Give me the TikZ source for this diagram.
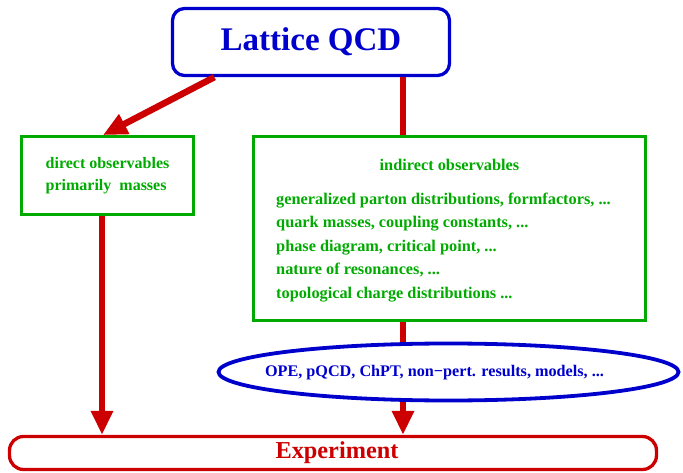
\documentclass[tikz,border=0pt]{standalone}
\usepackage{fontspec}
\setmainfont{Liberation Serif}
\usepackage{tikz}
\usetikzlibrary{positioning, shapes.geometric, arrows.meta}
\definecolor{qcdblue}{RGB}{0,0,204}
\definecolor{obsgreen}{RGB}{0,170,0}
\definecolor{expred}{RGB}{204,0,0}
\tikzset{
    bluebox/.style={
        rectangle,
        rounded corners=12pt,
        draw=qcdblue, % 边框为蓝色
        line width=3.3pt,
        text=qcdblue,
        minimum width=277pt,
        minimum height=67pt,
        font=\bfseries\fontsize{33}{36}\selectfont
    },
    greenbox/.style={
        rectangle,
        draw=obsgreen, % 边框为绿色
        line width=2.8pt,
        text=obsgreen,
        inner sep=0,
        font=\bfseries\fontsize{16}{22}\selectfont
    },
    greentext/.style={
        text=obsgreen,
        inner sep=0,
        font=\bfseries\fontsize{16.3}{23.5}\selectfont
    },
    bluering/.style={
        ellipse,
        draw=qcdblue,
        line width=3.8pt,
        minimum width=460pt,
        minimum height=57pt,
        inner sep=0
    },
    bluetext/.style={
        text=qcdblue,
        inner sep=0,
        font=\bfseries\fontsize{16.2}{18}\selectfont
    },
    redbox/.style={
        rectangle,
        rounded corners=14pt,
        draw=expred,
        line width=3.3pt,
        text=expred,
        minimum width=647pt,
        minimum height=33pt,
        font=\bfseries\fontsize{24.3}{26}\selectfont
    },
    redlink/.style={
        draw=expred,
        line width=6.5pt % 红色粗线
    },
    redarrow/.style={
        redlink,
        -{Triangle[length=24pt,width=21pt]}
    }
}

\begin{document}
\begin{tikzpicture}[x=1pt, y=-1pt]
    \useasboundingbox (0,0) rectangle (683,473);
    % 方框
    \node[bluebox] (lattice) at (311,42) {Lattice QCD};
    \node[greenbox, align=left, minimum width=172pt, minimum height=78pt]
        (direct) at (107.5,175.5) {direct observables\\primarily~~masses};
    \node[greenbox, minimum width=392pt, minimum height=184pt]
        (indirect) at (449.5,228.5) {};
    \node[greentext] (indtitle) at (449.5,165) {indirect observables};
    \node[greentext, align=left, anchor=west] (indlist) at (276,247.5) {%
        generalized parton distributions, formfactors, ...\\
        quark masses, coupling constants, ...\\
        phase diagram, critical point, ...\\
        nature of resonances, ...\\
        topological charge distributions ...};
    \node[bluering] (models) at (448.5,372) {};
    \node[bluetext] (modelstxt) at (434.5,373)
        {OPE, pQCD, ChPT, non−pert. results, models, ...};
    \node[redbox, text width=640pt, align=center, inner xsep=0, xshift=0pt]
        (experiment) at (333,453) {\hspace*{8pt}Experiment};
    % 连线
    \coordinate (spine) at (403,0);
    \coordinate (leftspine) at (102,0);
    \draw[redarrow] (lattice.200) -- ([xshift=-4.5pt]direct.north);
    \draw[redlink] (lattice.south -| spine) -- (indirect.north -| spine);
    \draw[redlink] (indirect.south -| spine) -- (models.north -| spine);
    \draw[redarrow] (models.south -| spine) -- (experiment.north -| spine);
    \draw[redarrow] (direct.south -| leftspine) -- (experiment.north -| leftspine);
\end{tikzpicture}
\end{document}
